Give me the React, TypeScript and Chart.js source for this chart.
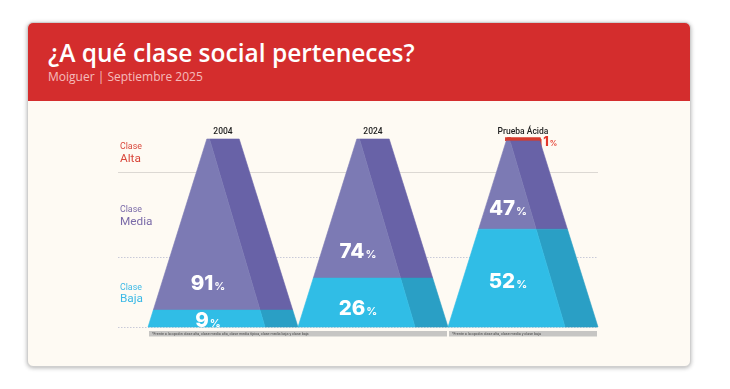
import React, { useEffect, useRef } from 'react';
import { Chart, registerables } from 'chart.js';

Chart.register(...registerables);

// ---------- data ----------
const categories = ['2004', '2024', 'Prueba Ácida'];
const claseBaja = [9, 26, 52];
const claseMedia = [91, 74, 47];
const claseAlta = [0, 0, 1];
const classNames = ['Alta', 'Media', 'Baja'];
const classPrefix = 'Clase';
// edges of the class regions on the value axis (top of "Alta" row … baseline)
const sectionBounds = [104, 82.4, 37.2, 0];
const footnoteGroups = [
  [0, 1],
  [2, 2],
];
const footnotes = [
  '*Frente a la opción clase alta, clase media alta, clase media típica, clase media baja y clase baja',
  '*Frente a la opción clase alta, clase media y clase baja',
];
const title = '¿A qué clase social perteneces?';
const subtitle = 'Moiguer | Septiembre 2025';

// ---------- style ----------
const HALF_TOP = 0.108;
const HALF_BOTTOM = 0.5;
const DIV_TOP = -0.09;
const DIV_BOTTOM = 0.28;
const LABEL_DX = -0.1;
const labelFrac = { baja: [0.42, 0.39, 0.47], media: [0.16, 0.2, 0.25] };
const classColors = ['#d9473b', '#7a6aa8', '#3cb9e6'];
const faceLight = { baja: '#30bde6', media: '#7c7ab4', alta: '#d63b2e' };
const faceDark = { baja: '#2a9fc5', media: '#6862a7', alta: '#d63b2e' };

const half = (v: number) => HALF_BOTTOM + ((HALF_TOP - HALF_BOTTOM) * v) / 100;
const divd = (v: number) => DIV_BOTTOM + ((DIV_TOP - DIV_BOTTOM) * v) / 100;

type Band = { key: 'baja' | 'media' | 'alta'; lo: number; hi: number; value: number };

function bandsFor(i: number): Band[] {
  const b = claseBaja[i];
  const m = claseMedia[i];
  const a = claseAlta[i];
  const out: Band[] = [];
  if (b > 0) out.push({ key: 'baja', lo: 0, hi: b, value: b });
  if (m > 0) out.push({ key: 'media', lo: b, hi: b + m, value: m });
  if (a > 0) out.push({ key: 'alta', lo: b + m, hi: b + m + a, value: a });
  return out;
}

function buildDatasets() {
  const ds: any[] = [];
  categories.forEach((_, i) => {
    bandsFor(i).forEach((band) => {
      const { lo, hi, key } = band;
      const light = [
        { x: i - half(lo), y: lo },
        { x: i - half(hi), y: hi },
        { x: i + divd(hi), y: hi },
        { x: i + divd(lo), y: lo },
        { x: i - half(lo), y: lo },
      ];
      const dark = [
        { x: i + divd(lo), y: lo },
        { x: i + divd(hi), y: hi },
        { x: i + half(hi), y: hi },
        { x: i + half(lo), y: lo },
        { x: i + divd(lo), y: lo },
      ];
      const bw = key === 'alta' ? 3.5 : 0.6;
      [light, dark].forEach((pts, f) => {
        const col = f === 0 ? faceLight[key] : faceDark[key];
        ds.push({
          data: pts,
          showLine: true,
          fill: 'shape',
          backgroundColor: col,
          borderColor: col,
          borderWidth: bw,
          borderJoinStyle: 'miter',
          pointRadius: 0,
          tension: 0,
          clip: false,
        });
      });
    });
  });
  return ds;
}

function drawPercent(
  ctx: CanvasRenderingContext2D,
  value: number,
  cx: number,
  cy: number,
  color: string,
  big: number,
  small: number,
  align: 'center' | 'left'
) {
  const numFont = `800 ${big}px Inter, "Open Sans", sans-serif`;
  const pctFont = `600 ${small}px Inter, "Open Sans", sans-serif`;
  ctx.font = numFont;
  const w1 = ctx.measureText(String(value)).width;
  ctx.font = pctFont;
  const w2 = ctx.measureText('%').width;
  const total = w1 + 1 + w2;
  const x0 = align === 'center' ? cx - total / 2 : cx;
  const baseline = cy + big * 0.36;
  ctx.fillStyle = color;
  ctx.textAlign = 'left';
  ctx.textBaseline = 'alphabetic';
  ctx.font = numFont;
  ctx.fillText(String(value), x0, baseline);
  ctx.font = pctFont;
  ctx.fillText('%', x0 + w1 + 1, baseline);
}

const overlay = {
  id: 'overlay',
  beforeDatasetsDraw(chart: any) {
    const { ctx, chartArea, scales } = chart;
    const x = scales.x;
    const y = scales.y;
    const right = x.getPixelForValue(categories.length - 1 + HALF_BOTTOM);
    sectionBounds.slice(1).forEach((v, k) => {
      const py = Math.round(y.getPixelForValue(v)) + 0.5;
      ctx.save();
      ctx.lineWidth = 1;
      ctx.strokeStyle = k === 0 ? '#dcd8d3' : '#c9cad8';
      ctx.setLineDash(k === 0 ? [] : [1.5, 1.5]);
      ctx.beginPath();
      ctx.moveTo(chartArea.left + 6, py);
      ctx.lineTo(right, py);
      ctx.stroke();
      ctx.restore();
    });
  },
  afterDatasetsDraw(chart: any) {
    const { ctx, chartArea, scales } = chart;
    const x = scales.x;
    const y = scales.y;
    ctx.save();

    // left class labels
    classNames.forEach((name, k) => {
      const c = (y.getPixelForValue(sectionBounds[k]) + y.getPixelForValue(sectionBounds[k + 1])) / 2;
      ctx.fillStyle = classColors[k];
      ctx.textAlign = 'left';
      ctx.textBaseline = 'middle';
      ctx.font = '400 8.8px Roboto, sans-serif';
      ctx.fillText(classPrefix, chartArea.left + 8, c - 4.5);
      ctx.font = '400 11.8px Roboto, sans-serif';
      ctx.fillText(name, chartArea.left + 8, c + 7);
    });

    // column titles
    categories.forEach((cat, i) => {
      ctx.fillStyle = '#1e1e1e';
      ctx.textAlign = 'center';
      ctx.textBaseline = 'middle';
      ctx.font = '500 8.5px Roboto, sans-serif';
      ctx.fillText(cat, x.getPixelForValue(i), chartArea.top - 7.5);
    });

    // percentage labels
    categories.forEach((_, i) => {
      bandsFor(i).forEach((band) => {
        if (band.key === 'alta') {
          const px = x.getPixelForValue(i + HALF_TOP) + 4;
          const py = y.getPixelForValue((band.lo + band.hi) / 2) + 2;
          drawPercent(ctx, band.value, px, py, '#e3362a', 12.5, 7.5, 'left');
          return;
        }
        const frac = labelFrac[band.key][i];
        const v = band.lo + frac * (band.hi - band.lo);
        drawPercent(ctx, band.value, x.getPixelForValue(i + LABEL_DX), y.getPixelForValue(v), '#ffffff', 20.5, 11, 'center');
      });
    });

    // footnotes
    footnoteGroups.forEach(([a, b], k) => {
      const x0 = x.getPixelForValue(a - HALF_BOTTOM) + 1;
      const x1 = x.getPixelForValue(b + HALF_BOTTOM) - 1;
      const top = chartArea.bottom + 4;
      ctx.fillStyle = '#c6c5c3';
      ctx.fillRect(x0, top, x1 - x0, 5.5);
      ctx.fillStyle = '#4a4a4a';
      ctx.textAlign = 'left';
      ctx.textBaseline = 'middle';
      ctx.font = '400 3.7px Roboto, sans-serif';
      ctx.fillText(footnotes[k], x0 + 3, top + 2.9);
    });

    ctx.restore();
  },
};

export default function App() {
  const ref = useRef<HTMLCanvasElement | null>(null);

  useEffect(() => {
    if (!ref.current) return;
    const chart = new Chart(ref.current, {
      type: 'scatter',
      data: { datasets: buildDatasets() },
      options: {
        animation: false,
        responsive: false,
        events: [],
        layout: { padding: { top: 21, bottom: 18, left: 0, right: 0 } },
        scales: {
          x: { type: 'linear', min: -0.74, max: 2.58, display: false },
          y: { type: 'linear', min: 0, max: 100, display: false },
        },
        plugins: { legend: { display: false }, tooltip: { enabled: false } },
      },
      plugins: [overlay],
    });
    return () => chart.destroy();
  }, []);

  return (
    <div style={{ position: 'absolute', left: 0, top: 0, width: 730, height: 389, background: '#ffffff', overflow: 'hidden' }}>
      <div
        style={{
          position: 'absolute',
          left: 27,
          top: 22,
          width: 662,
          height: 343,
          borderRadius: 6,
          border: '1px solid #cfcfcf',
          boxShadow: '0 1px 4px rgba(0,0,0,0.3)',
          background: '#fefaf3',
          overflow: 'hidden',
        }}
      >
        <div style={{ position: 'absolute', left: 0, top: 0, width: '100%', height: 78, background: '#d42d2d' }}>
          <div
            style={{
              position: 'absolute',
              left: 20,
              top: 14,
              lineHeight: '32px',
              fontFamily: '"Open Sans", sans-serif',
              fontWeight: 600,
              fontSize: 24.5,
              color: '#ffffff',
              whiteSpace: 'nowrap',
            }}
          >
            {title}
          </div>
          <div
            style={{
              position: 'absolute',
              left: 20,
              top: 46,
              lineHeight: '16px',
              fontFamily: '"Open Sans", sans-serif',
              fontWeight: 400,
              fontSize: 12,
              color: 'rgba(255,225,225,0.8)',
              whiteSpace: 'nowrap',
            }}
          >
            {subtitle}
          </div>
        </div>
      </div>
      <canvas ref={ref} width={498} height={227} style={{ position: 'absolute', left: 112, top: 118, width: 498, height: 227 }} />
    </div>
  );
}
